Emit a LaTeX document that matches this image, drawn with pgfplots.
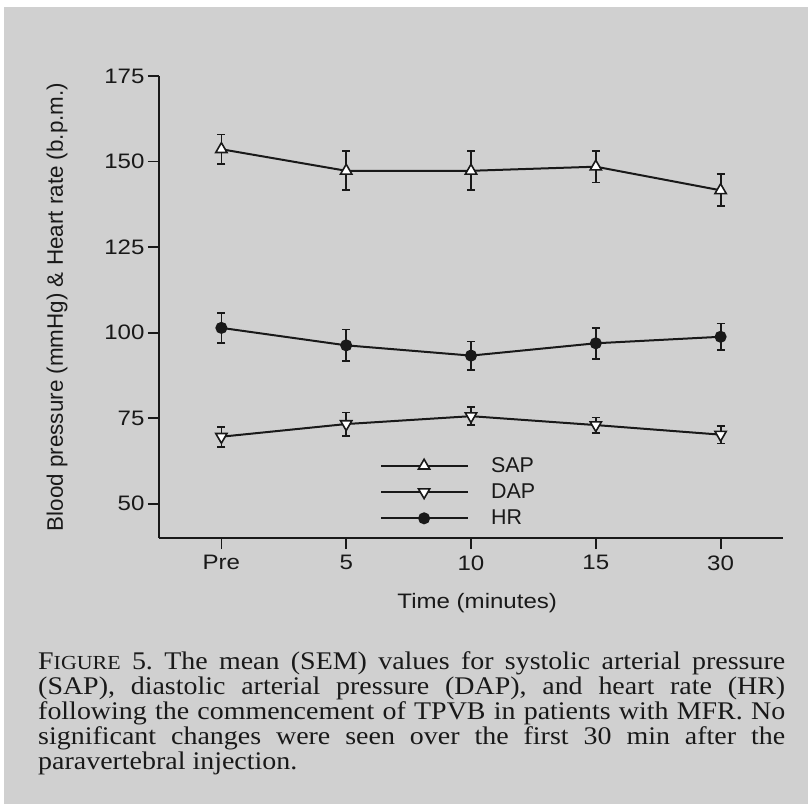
\documentclass[border=0pt]{standalone}
\usepackage{pgfplots}
\pgfplotsset{compat=1.18}
\usepackage{fontspec}
\setmainfont{Liberation Sans}
\newfontfamily\widefont{Liberation Sans}[FakeStretch=1.15]
\newfontfamily\capfont{Liberation Serif}[FakeStretch=1.1]
\definecolor{bg}{RGB}{208,208,208}
\definecolor{ink}{RGB}{25,25,25}

\pgfplotstableread{
x y e
0 153.6 4.3
1 147.3 5.7
2 147.3 5.7
3 148.5 4.6
4 141.6 4.7
}\sap
\pgfplotstableread{
x y e
0 69.6 2.9
1 73.3 3.4
2 75.6 2.6
3 73.0 2.2
4 70.2 2.6
}\dap
\pgfplotstableread{
x y e
0 101.4 4.4
1 96.3 4.6
2 93.3 4.1
3 96.9 4.5
4 98.8 3.9
}\hr

\begin{document}
\frenchspacing
\begin{tikzpicture}
\useasboundingbox (0,0) rectangle (808bp,-804bp);
\fill[white] (0,0) rectangle (808bp,-804bp);
\fill[bg] (4bp,-7bp) rectangle (808bp,-804bp);
\begin{axis}[
  at={(159bp,-538bp)}, anchor=south west,
  scale only axis, width=624bp, height=462bp,
  xmin=-0.5, xmax=4.5, ymin=40, ymax=175,
  axis x line*=bottom, axis y line*=left,
  axis line style={ink, line width=2.4bp, -},
  xtick={0,...,4}, xticklabels={Pre,5,10,15,30},
  ytick={50,75,...,175},
  tick style={ink, line width=1.8bp},
  tick align=outside, major tick length=11bp,
  /pgf/number format/assume math mode=true,
  ticklabel style={font=\widefont\fontsize{21}{25}\selectfont, text=ink},
  xticklabel style={yshift=-3bp},
  xlabel={Time (minutes)},
  xlabel style={font=\widefont\fontsize{21}{25}\selectfont, text=ink, at={(axis description cs:0.51,-0.1407)}, anchor=center},
  ylabel={Blood pressure (mmHg) \& Heart rate (b.p.m.)},
  ylabel style={font=\fontsize{22.5}{27}\selectfont, text=ink, at={(axis description cs:-0.1635,0.5)}, anchor=center},
  legend style={draw=none, fill=none, at={(0.354,0.0996)}, anchor=west, inner sep=0pt,
    font=\fontsize{21.5}{27}\selectfont, text=ink, row sep=6bp},
  legend cell align=left,
  legend image code/.code={\draw[mark repeat=2,mark phase=2,#1] plot coordinates {(0bp,0bp) (43bp,0bp) (87bp,0bp)};},
  /tikz/every odd column/.append style={column sep=20bp},
  clip=false,
]
\addplot[ink, line width=2bp, mark=triangle*, mark size=6.5bp,
  mark options={fill=white, line width=1.6bp},
  error bars/.cd, y dir=both, y explicit,
  error bar style={line width=1.8bp}, error mark options={rotate=90, mark size=4bp, line width=1.8bp}]
  table[x=x, y=y, y error=e] {\sap};
\addlegendentry{SAP}
\addplot[ink, line width=2bp, mark=triangle*, mark size=6.5bp,
  mark options={fill=white, line width=1.6bp, rotate=180},
  error bars/.cd, y dir=both, y explicit,
  error bar style={line width=1.8bp}, error mark options={rotate=90, mark size=4bp, line width=1.8bp}]
  table[x=x, y=y, y error=e] {\dap};
\addlegendentry{DAP}
\addplot[ink, line width=2bp, mark=*, mark size=5bp,
  mark options={fill=ink},
  error bars/.cd, y dir=both, y explicit,
  error bar style={line width=1.8bp}, error mark options={rotate=90, mark size=4bp, line width=1.8bp}]
  table[x=x, y=y, y error=e] {\hr};
\addlegendentry{HR}
\end{axis}
\node[anchor=base west, text width=747bp, align=justify, inner sep=0pt, text=ink,
  font=\capfont\fontsize{25.5}{25.3}\selectfont] at (38bp,-669bp)
  {F{\fontsize{20}{25.3}\selectfont IGURE} 5. The mean (SEM) values for systolic arterial pressure\linebreak
  (SAP), diastolic arterial pressure (DAP), and heart rate (HR)\linebreak
  following the commencement of TPVB in patients with MFR. No\linebreak
  significant changes were seen over the first 30 min after the\linebreak
  paravertebral injection.};
\end{tikzpicture}
\end{document}
